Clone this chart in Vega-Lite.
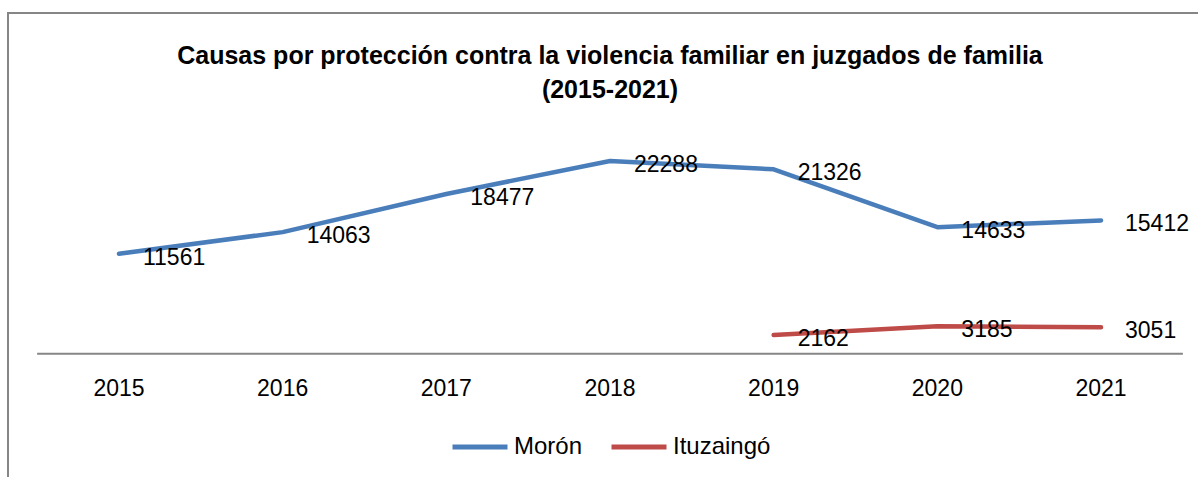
{
  "$schema": "https://vega.github.io/schema/vega-lite/v6.json",
  "width": 1204,
  "height": 470,
  "autosize": "none",
  "padding": {"left": 8, "top": 13, "right": 0, "bottom": 0},
  "config": {
    "view": {"stroke": "#868686", "strokeWidth": 2},
    "font": "Liberation Sans"
  },
  "title": {
    "text": ["Causas por protección contra la violencia familiar en juzgados de familia", "(2015-2021)"],
    "font": "Liberation Sans",
    "fontSize": 25,
    "fontWeight": "bold",
    "color": "#000000",
    "anchor": "middle",
    "offset": -90,
    "lineHeight": 34
  },
  "data": {
    "values": [
      {"year": "2015", "city": "Morón", "value": 11561},
      {"year": "2016", "city": "Morón", "value": 14063},
      {"year": "2017", "city": "Morón", "value": 18477},
      {"year": "2018", "city": "Morón", "value": 22288},
      {"year": "2019", "city": "Morón", "value": 21326},
      {"year": "2020", "city": "Morón", "value": 14633},
      {"year": "2021", "city": "Morón", "value": 15412},
      {"year": "2019", "city": "Ituzaingó", "value": 2162},
      {"year": "2020", "city": "Ituzaingó", "value": 3185},
      {"year": "2021", "city": "Ituzaingó", "value": 3051}
    ]
  },
  "encoding": {
    "x": {
      "field": "year",
      "type": "nominal",
      "scale": {"type": "band", "paddingInner": 0, "paddingOuter": 0.178},
      "axis": {
        "title": null,
        "orient": "bottom",
        "offset": -129,
        "domain": false,
        "ticks": false,
        "grid": false,
        "labelAngle": 0,
        "labelFontSize": 23,
        "labelColor": "#000000",
        "labelPadding": 23,
        "labelFont": "Liberation Sans"
      }
    },
    "y": {
      "field": "value",
      "type": "quantitative",
      "scale": {"domain": [-14955, 39405], "nice": false, "zero": false},
      "axis": null
    }
  },
  "layer": [
    {
      "data": {"values": [{"start": "2015", "end": "2021", "zero": 0}]},
      "mark": {"type": "rule", "color": "#868686", "strokeWidth": 2},
      "encoding": {
        "x": {"field": "start", "type": "nominal", "bandPosition": 0},
        "x2": {"field": "end", "bandPosition": 1},
        "y": {"field": "zero", "type": "quantitative"}
      }
    },
    {
      "mark": {"type": "line", "strokeWidth": 4.5, "strokeCap": "round", "strokeJoin": "round"},
      "encoding": {
        "color": {
          "field": "city",
          "type": "nominal",
          "scale": {"domain": ["Morón", "Ituzaingó"], "range": ["#4A7EBB", "#BE4B48"]},
          "legend": {
            "orient": "none",
            "legendX": 442,
            "legendY": 404,
            "direction": "horizontal",
            "title": null,
            "symbolType": "stroke",
            "symbolSize": 3025,
            "symbolStrokeWidth": 5,
            "labelFontSize": 24,
            "labelColor": "#000000",
            "labelOffset": 4,
            "columnPadding": 18,
            "labelFont": "Liberation Sans"
          }
        }
      }
    },
    {
      "mark": {"type": "text", "align": "left", "baseline": "middle", "dx": 24, "dy": 4, "fontSize": 23, "color": "#000000"},
      "encoding": {
        "text": {"field": "value", "type": "quantitative", "format": "d"}
      }
    }
  ]
}
